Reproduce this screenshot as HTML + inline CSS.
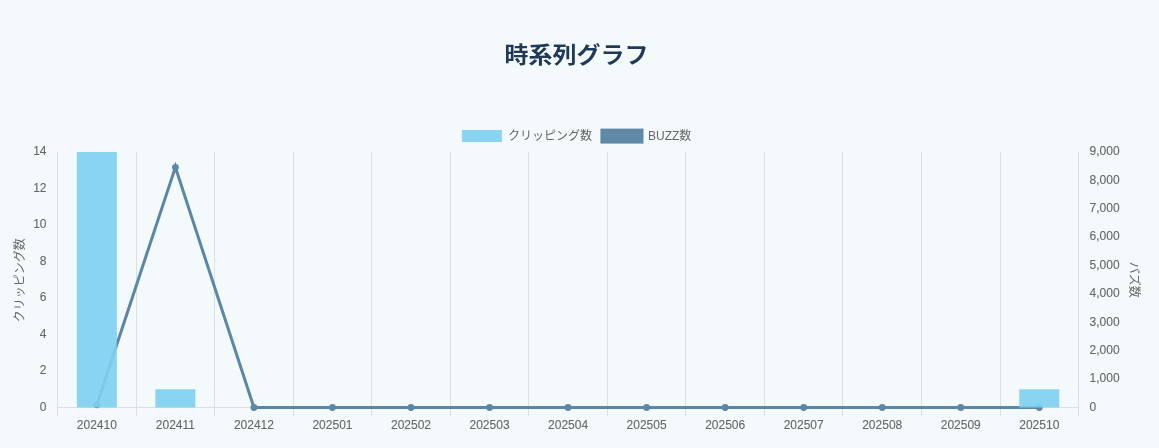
<!DOCTYPE html>
<html lang="ja">
<head>
<meta charset="utf-8">
<title>時系列グラフ</title>
<style>
html,body{margin:0;padding:0;}
body{width:1159px;height:448px;overflow:hidden;background:#f4f9fc;font-family:"Liberation Sans","Noto Sans CJK JP",sans-serif;}
svg{display:block;position:absolute;left:0;top:0;will-change:transform;}
text{font-family:"Liberation Sans","Noto Sans CJK JP",sans-serif;}
.t{font-size:12px;fill:#666666;}
.d{stroke:#666666;stroke-width:0.1px;}
.ttl{font-size:24px;font-weight:700;fill:#1e3a56;}
</style>
</head>
<body>
<svg width="1159" height="448" viewBox="0 0 1159 448">
<rect x="0" y="0" width="1159" height="448" fill="#f4f9fc"/>
<text class="ttl" x="576.50" y="64.00" text-anchor="middle" transform="translate(0,55.00) scale(1,0.925) translate(0,-55.00)">時系列グラフ</text>
<rect x="461.9" y="130" width="40" height="12" fill="#89d4f1"/>
<text class="t" x="507.9" y="140.3">クリッピング数</text>
<rect x="601.9" y="130.1" width="40.1" height="12" fill="#5f89a4" stroke="#5f89a4" stroke-width="3"/>
<text class="t" x="648.0" y="140.3">BUZZ数</text>
<g stroke="#dcdfe2" stroke-width="1" shape-rendering="crispEdges">
<line x1="57.5" y1="152.0" x2="57.5" y2="415.5"/>
<line x1="136.5" y1="152.0" x2="136.5" y2="415.5"/>
<line x1="214.5" y1="152.0" x2="214.5" y2="415.5"/>
<line x1="293.5" y1="152.0" x2="293.5" y2="415.5"/>
<line x1="371.5" y1="152.0" x2="371.5" y2="415.5"/>
<line x1="450.5" y1="152.0" x2="450.5" y2="415.5"/>
<line x1="528.5" y1="152.0" x2="528.5" y2="415.5"/>
<line x1="607.5" y1="152.0" x2="607.5" y2="415.5"/>
<line x1="685.5" y1="152.0" x2="685.5" y2="415.5"/>
<line x1="764.5" y1="152.0" x2="764.5" y2="415.5"/>
<line x1="842.5" y1="152.0" x2="842.5" y2="415.5"/>
<line x1="921.5" y1="152.0" x2="921.5" y2="415.5"/>
<line x1="1000.5" y1="152.0" x2="1000.5" y2="415.5"/>
<line x1="1078.5" y1="152.0" x2="1078.5" y2="415.5"/>
<line x1="57.0" y1="407.5" x2="1079.0" y2="407.5"/>
</g>
<polyline fill="none" stroke="#5b87a3" stroke-width="3" stroke-linejoin="miter" stroke-miterlimit="10" points="96.87,404.80 175.40,167.30 253.94,407.50 332.47,407.50 411.01,407.50 489.54,407.50 568.08,407.50 646.61,407.50 725.15,407.50 803.68,407.50 882.22,407.50 960.75,407.50 1039.29,407.50"/>
<polygon fill="#5b87a3" points="174.60,164.30 175.40,161.40 176.20,164.30"/>
<g fill="#5b87a3">
<circle cx="96.87" cy="404.80" r="3.4"/>
<circle cx="175.40" cy="167.30" r="3.4"/>
<circle cx="253.94" cy="407.50" r="3.4"/>
<circle cx="332.47" cy="407.50" r="3.4"/>
<circle cx="411.01" cy="407.50" r="3.4"/>
<circle cx="489.54" cy="407.50" r="3.4"/>
<circle cx="568.08" cy="407.50" r="3.4"/>
<circle cx="646.61" cy="407.50" r="3.4"/>
<circle cx="725.15" cy="407.50" r="3.4"/>
<circle cx="803.68" cy="407.50" r="3.4"/>
<circle cx="882.22" cy="407.50" r="3.4"/>
<circle cx="960.75" cy="407.50" r="3.4"/>
<circle cx="1039.29" cy="407.50" r="3.4"/>
</g>
<rect x="76.87" y="152.00" width="40.00" height="255.50" fill="rgba(125,208,240,0.9)"/>
<rect x="155.40" y="389.25" width="40.00" height="18.25" fill="rgba(125,208,240,0.9)"/>
<rect x="1019.29" y="389.25" width="40.00" height="18.25" fill="rgba(125,208,240,0.9)"/>
<text class="t d" x="46.5" y="155.30" text-anchor="end">14</text>
<text class="t d" x="46.5" y="191.80" text-anchor="end">12</text>
<text class="t d" x="46.5" y="228.30" text-anchor="end">10</text>
<text class="t d" x="46.5" y="264.80" text-anchor="end">8</text>
<text class="t d" x="46.5" y="301.30" text-anchor="end">6</text>
<text class="t d" x="46.5" y="337.80" text-anchor="end">4</text>
<text class="t d" x="46.5" y="374.30" text-anchor="end">2</text>
<text class="t d" x="46.5" y="410.80" text-anchor="end">0</text>
<text class="t d" x="1089.6" y="155.30">9,000</text>
<text class="t d" x="1089.6" y="183.69">8,000</text>
<text class="t d" x="1089.6" y="212.08">7,000</text>
<text class="t d" x="1089.6" y="240.47">6,000</text>
<text class="t d" x="1089.6" y="268.86">5,000</text>
<text class="t d" x="1089.6" y="297.24">4,000</text>
<text class="t d" x="1089.6" y="325.63">3,000</text>
<text class="t d" x="1089.6" y="354.02">2,000</text>
<text class="t d" x="1089.6" y="382.41">1,000</text>
<text class="t d" x="1089.6" y="410.80">0</text>
<text class="t d" x="96.87" y="429.00" text-anchor="middle">202410</text>
<text class="t d" x="175.40" y="429.00" text-anchor="middle">202411</text>
<text class="t d" x="253.94" y="429.00" text-anchor="middle">202412</text>
<text class="t d" x="332.47" y="429.00" text-anchor="middle">202501</text>
<text class="t d" x="411.01" y="429.00" text-anchor="middle">202502</text>
<text class="t d" x="489.54" y="429.00" text-anchor="middle">202503</text>
<text class="t d" x="568.08" y="429.00" text-anchor="middle">202504</text>
<text class="t d" x="646.61" y="429.00" text-anchor="middle">202505</text>
<text class="t d" x="725.15" y="429.00" text-anchor="middle">202506</text>
<text class="t d" x="803.68" y="429.00" text-anchor="middle">202507</text>
<text class="t d" x="882.22" y="429.00" text-anchor="middle">202508</text>
<text class="t d" x="960.75" y="429.00" text-anchor="middle">202509</text>
<text class="t d" x="1039.29" y="429.00" text-anchor="middle">202510</text>
<text class="t" text-anchor="middle" transform="translate(23.7,280.15) rotate(-90)">クリッピング数</text>
<text class="t" text-anchor="middle" transform="translate(1130.2,279.75) rotate(90)">バズ数</text>
</svg>
</body>
</html>
